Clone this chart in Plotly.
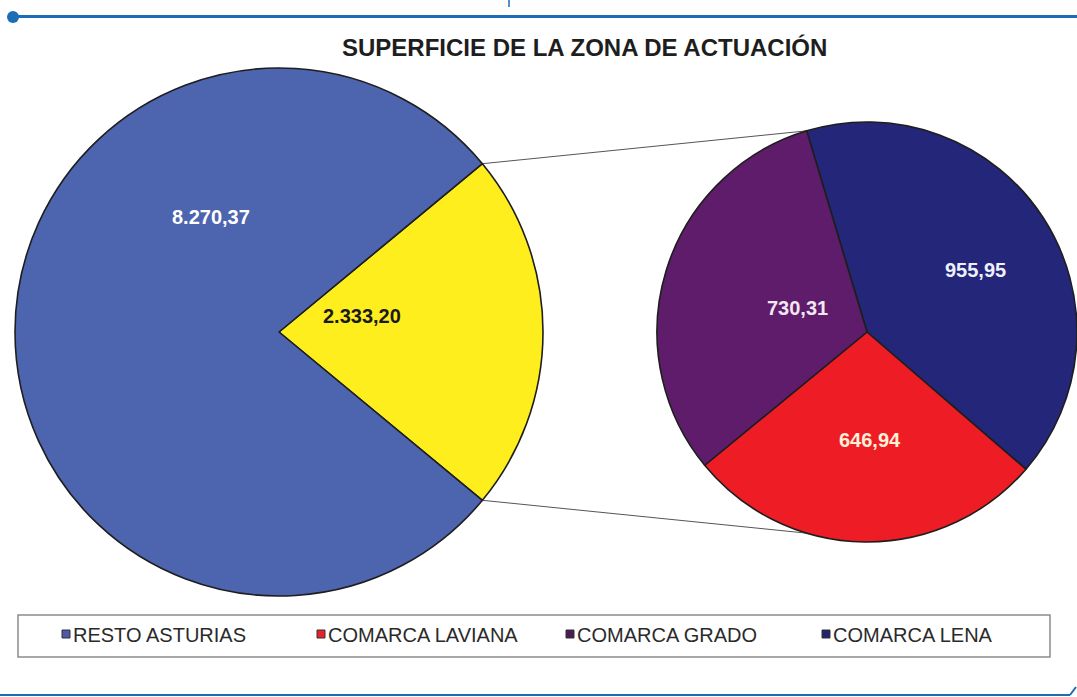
import math
import plotly.graph_objects as go

W, H = 1077, 697

# ---- data ----
main_labels = ["ZONA DE ACTUACIÓN", "RESTO ASTURIAS"]
main_values = [2333.20, 8270.37]
main_colors = ["#FFEE1E", "#4D64AF"]

zone_labels = ["COMARCA LENA", "COMARCA LAVIANA", "COMARCA GRADO"]
zone_values = [955.95, 646.94, 730.31]
zone_colors = ["#24267A", "#EE1C25", "#5F1C6A"]

legend_labels = ["RESTO ASTURIAS", "COMARCA LAVIANA", "COMARCA GRADO", "COMARCA LENA"]
legend_colors = ["#5058A8", "#E8202A", "#4A1A55", "#22246E"]

title_text = "SUPERFICIE DE LA ZONA DE ACTUACIÓN"


def fmt(v):
    s = f"{v:,.2f}"
    return s.replace(",", "X").replace(".", ",").replace("X", ".")


def px(x, y):
    return x / W, 1 - y / H


# ---- geometry ----
cx1, cy1, r1 = 279, 332, 264
cx2, cy2, r2 = 867, 332, 210
zone_rot = -16.7

frac = main_values[0] / sum(main_values)
half = 180 * frac  # half angle of the highlighted slice (deg)

fig = go.Figure()

fig.add_trace(go.Pie(
    labels=main_labels, values=main_values, sort=False, direction="clockwise",
    rotation=90 - half,
    marker=dict(colors=main_colors, line=dict(color="#1E1E1E", width=1.6)),
    textinfo="none", showlegend=False,
    domain=dict(x=[(cx1 - r1) / W, (cx1 + r1) / W], y=[1 - (cy1 + r1) / H, 1 - (cy1 - r1) / H]),
))

fig.add_trace(go.Pie(
    labels=zone_labels, values=zone_values, sort=False, direction="clockwise",
    rotation=zone_rot,
    marker=dict(colors=zone_colors, line=dict(color="#1E1E1E", width=1.6)),
    textinfo="none", showlegend=False,
    domain=dict(x=[(cx2 - r2) / W, min(1, (cx2 + r2) / W)], y=[1 - (cy2 + r2) / H, 1 - (cy2 - r2) / H]),
))

shapes = []
annotations = []

# connector lines
a = math.radians(half)
p_top = (cx1 + r1 * math.cos(a), cy1 - r1 * math.sin(a))
p_bot = (cx1 + r1 * math.cos(a), cy1 + r1 * math.sin(a))
b = math.radians(zone_rot)
q_top = (cx2 + r2 * math.sin(b), cy2 - r2 * math.cos(b))
q_bot = (cx2 + r2 * math.sin(b), cy2 + r2 * math.cos(b))
for p, q in [(p_top, q_top), (p_bot, q_bot)]:
    x0, y0 = px(*p)
    x1, y1 = px(*q)
    shapes.append(dict(type="line", xref="paper", yref="paper", x0=x0, y0=y0, x1=x1, y1=y1,
                       line=dict(color="#555555", width=1), layer="below"))

# decorative top / bottom lines
blue = "#1C6DB5"
x0, y0 = px(13, 16.5); x1, y1 = px(1077, 16.5)
shapes.append(dict(type="line", xref="paper", yref="paper", x0=x0, y0=y0, x1=x1, y1=y1,
                   line=dict(color=blue, width=3)))
x0, y0 = px(7, 11); x1, y1 = px(19, 23)
shapes.append(dict(type="circle", xref="paper", yref="paper", x0=x0, y0=y0, x1=x1, y1=y1,
                   fillcolor=blue, line=dict(color=blue, width=0)))
x0, y0 = px(509, 0); x1, y1 = px(509, 7)
shapes.append(dict(type="line", xref="paper", yref="paper", x0=x0, y0=y0, x1=x1, y1=y1,
                   line=dict(color=blue, width=1.5)))
x0, y0 = px(0, 695); x1, y1 = px(1070, 695)
shapes.append(dict(type="line", xref="paper", yref="paper", x0=x0, y0=y0, x1=x1, y1=y1,
                   line=dict(color=blue, width=2)))
x0, y0 = px(1070, 695); x1, y1 = px(1076, 687)
shapes.append(dict(type="line", xref="paper", yref="paper", x0=x0, y0=y0, x1=x1, y1=y1,
                   line=dict(color=blue, width=2)))

# legend box
x0, y0 = px(18, 615); x1, y1 = px(1050, 657)
shapes.append(dict(type="rect", xref="paper", yref="paper", x0=x0, y0=y0, x1=x1, y1=y1,
                   line=dict(color="#8C8C8C", width=1.5), fillcolor="white"))
leg_x = [62, 317, 566, 822]
for lx, lab, col in zip(leg_x, legend_labels, legend_colors):
    sx0, sy0 = px(lx, 630); sx1, sy1 = px(lx + 8, 638)
    shapes.append(dict(type="rect", xref="paper", yref="paper", x0=sx0, y0=sy0, x1=sx1, y1=sy1,
                       fillcolor=col, line=dict(color="#333333", width=1)))
    tx, ty = px(lx + 8.5, 635)
    annotations.append(dict(text=lab, x=tx, y=ty, xref="paper", yref="paper", xanchor="left",
                            yanchor="middle", showarrow=False,
                            font=dict(family="Liberation Sans, Arial", size=20, color="#2A2A2A")))

# title
tx, ty = px(584, 48)
annotations.append(dict(text=f"<b>{title_text}</b>", x=tx, y=ty, xref="paper", yref="paper",
                        showarrow=False, xanchor="center", yanchor="middle",
                        font=dict(family="Liberation Sans, Arial", size=24, color="#1E1E1E")))

# slice value labels
label_pos = {
    "RESTO ASTURIAS": (211, 217, "white"),
    "ZONA DE ACTUACIÓN": (362, 316, "#1A1A1A"),
    "COMARCA GRADO": (797, 308, "#F2E6F2"),
    "COMARCA LENA": (975, 270, "#EEF0FA"),
    "COMARCA LAVIANA": (870, 440, "#FFF0D8"),
}
for lab, val in list(zip(main_labels, main_values)) + list(zip(zone_labels, zone_values)):
    x, y, c = label_pos[lab]
    tx, ty = px(x, y)
    annotations.append(dict(text=f"<b>{fmt(val)}</b>", x=tx, y=ty, xref="paper", yref="paper",
                            showarrow=False, xanchor="center", yanchor="middle",
                            font=dict(family="Liberation Sans, Arial", size=20, color=c)))

fig.update_layout(
    width=W, height=H,
    margin=dict(l=0, r=0, t=0, b=0),
    paper_bgcolor="white", plot_bgcolor="white",
    shapes=shapes, annotations=annotations, showlegend=False,
)

fig.write_html("out.html", config={"displayModeBar": False},
               post_script="document.body.style.margin='0';document.body.style.overflow='hidden';")
